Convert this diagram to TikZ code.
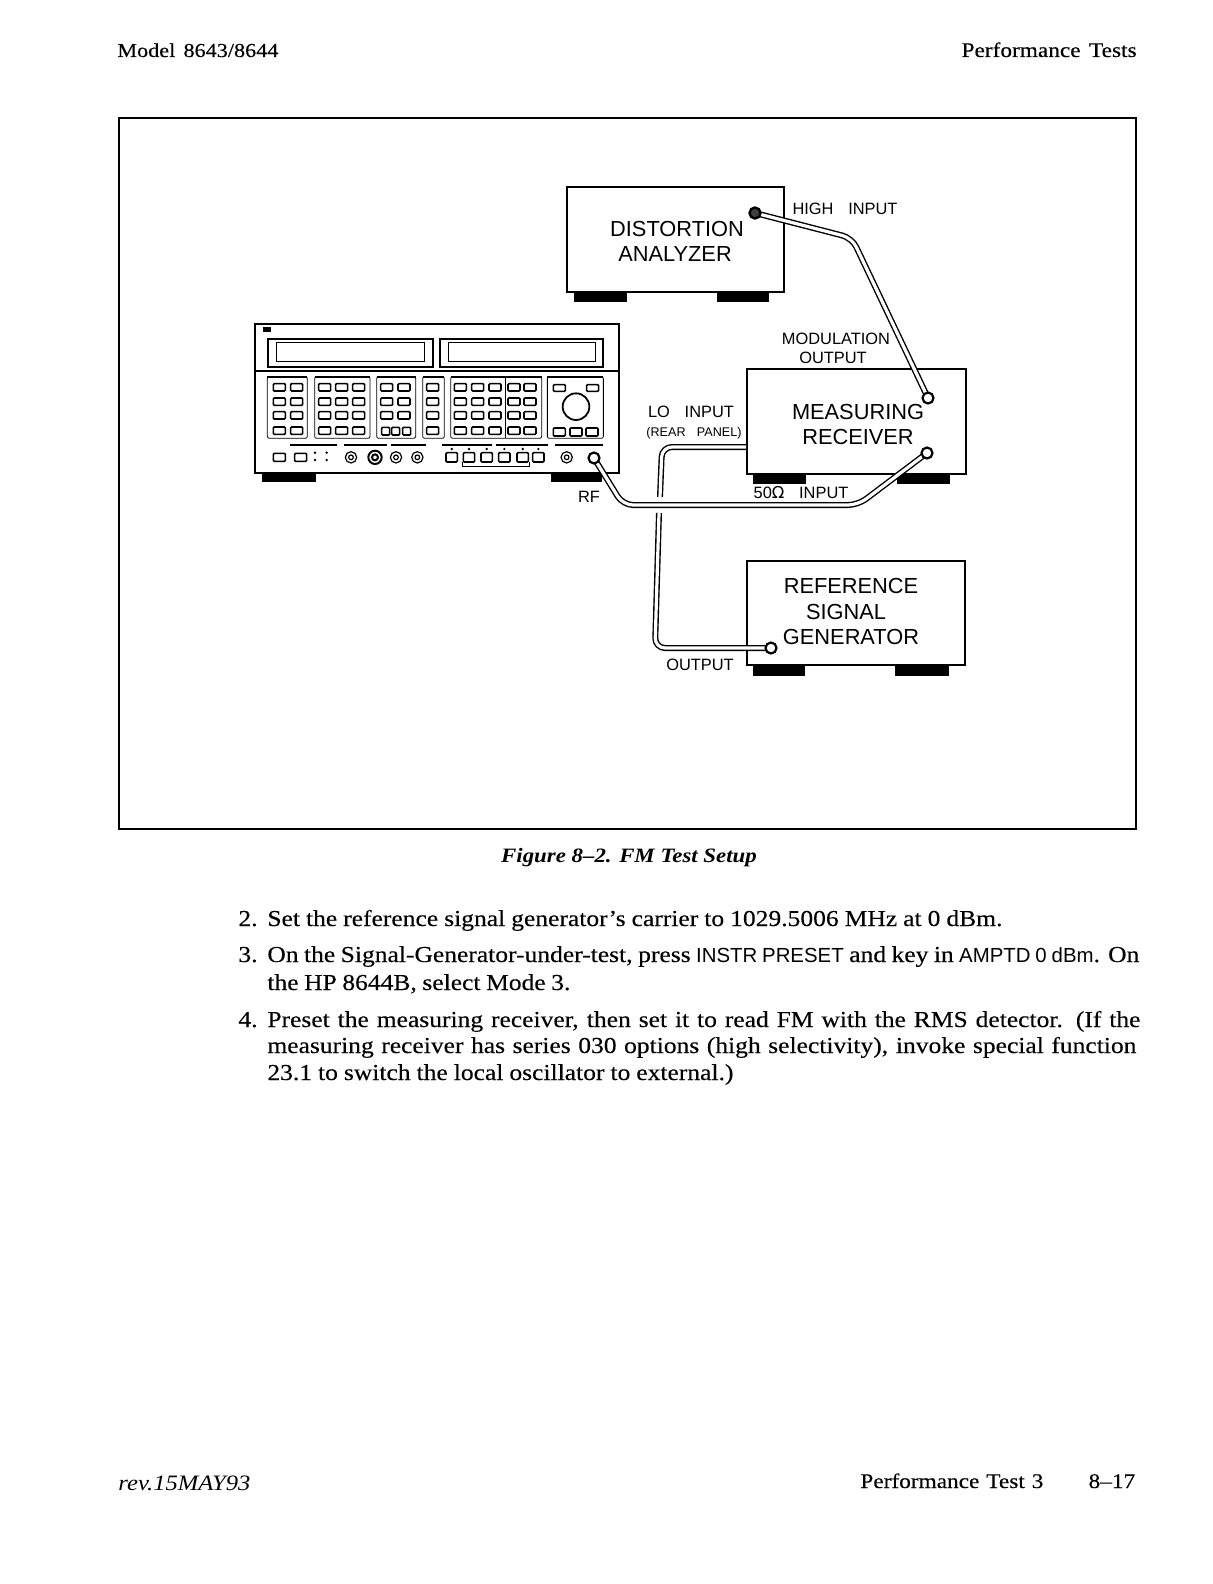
\documentclass[tikz,border=0pt]{standalone}
\usepackage{fontspec}
\setmainfont{Liberation Serif}[FakeStretch=1.12,UprightFeatures={FakeBold=0.25}]
\setsansfont{Liberation Sans}
\newfontfamily\capsfont{Liberation Sans}
\newfontfamily\symfont{DejaVu Sans}
\newcommand{\bodyline}[2]{\makebox[#1][s]{#2}}
\newcommand{\keyfont}{\sffamily\fontsize{10.2}{12}\selectfont}
\tikzset{
  page text/.style={inner sep=0pt,font=\fontsize{11.4}{13.5}\selectfont},
  left text/.style={page text,anchor=base west},
  right text/.style={page text,anchor=base east},
  head text/.style={inner sep=0pt,font=\fontsize{10.4}{13}\selectfont},
  model text/.style={inner sep=0pt,font=\fontsize{9.9}{13}\selectfont},
  instrument/.style={draw=black,line width=0.8pt,fill=white,inner sep=0pt,minimum width=#1,anchor=north west},
  foot/.style={fill=black,draw=none},
  biglabel/.style={inner sep=0pt,font=\capsfont\fontsize{10.9}{12}\selectfont},
  smalllabel/.style={inner sep=0pt,font=\capsfont\fontsize{8.2}{10}\selectfont},
  tinylabel/.style={inner sep=0pt,font=\capsfont\fontsize{6.3}{8}\selectfont},
  cable/.style={draw=black,line width=0.7pt,double=white,double distance=1.6pt,rounded corners=5pt},
  ring/.style={circle,draw=black,line width=1.1pt,fill=white,inner sep=0pt,minimum size=5.5pt},
  darkring/.style={circle,draw=black,line width=1.2pt,fill=black!75,inner sep=0pt,minimum size=5.5pt},
  panelline/.style={line width=0.7pt},
  keycap/.style={line width=0.8pt,rounded corners=0.5pt,fill=white},
  groupbox/.style={line width=0.4pt,rounded corners=1pt},
  groupbar/.style={line width=0.9pt},
}
\begin{document}
\begin{tikzpicture}[x=0.5pt,y=-0.5pt]
\useasboundingbox (0,0) rectangle (1212,1584);
\fill[white] (0,0) rectangle (1212,1584);

% page furniture
\node[model text,anchor=base west] (hdl) at (117,57) {\bodyline{80.5pt}{Model 8643/8644}};
\node[head text,anchor=base east] (hdr) at (1137,57) {\bodyline{87.5pt}{Performance Tests}};
\node[draw=black,line width=0.8pt,inner sep=0pt,anchor=north west,minimum width=508.5pt,minimum height=355.5pt] (frame) at (118,117) {};

% feet
\fill[foot] (574,290) rectangle (627,302);
\fill[foot] (717,290) rectangle (769,302);
\fill[foot] (262,470) rectangle (316,482);
\fill[foot] (551,470) rectangle (602,482);
\fill[foot] (753,472) rectangle (806,484);
\fill[foot] (897,472) rectangle (950,484);
\fill[foot] (753,663) rectangle (805,676);
\fill[foot] (895,663) rectangle (949,676);

% boxes
\node[instrument=108.5pt,minimum height=52.5pt] (da) at (566,186) {};
\node[instrument=109.5pt,minimum height=52.5pt] (mr) at (746,368) {};
\node[instrument=109pt,minimum height=52pt] (rs) at (746,560) {};
\node[instrument=182pt,minimum height=74.5pt] (sg) at (254,323) {};

% signal generator front panel (zoom coordinates)
\begin{scope}[shift={(240,310)},x=0.16667pt,y=-0.16667pt]
  \draw[panelline] (42,183) -- (1135,183);
  \fill (68,50) rectangle (92,66);
  \draw[groupbar] (85,172) -- (85,87) -- (578,87) -- (578,172) -- cycle;
  \draw[line width=0.4pt] (108,97) rectangle (552,155);
  \draw[groupbar] (600,172) -- (600,87) -- (1090,87) -- (1090,172) -- cycle;
  \draw[line width=0.4pt] (625,97) rectangle (1065,155);
  % key groups
  \foreach \a/\b in {82/202,224/390,410/527,548/613,632/905,922/1090}{
    \draw[groupbox] (\a,200) rectangle (\b,385);
    \draw[groupbar] (\a,200) -- (\b,200);
  }
  \draw[groupbox] (797,200) -- (797,385);
  \foreach \y in {232,275,316,362}{
    \foreach \x in {118,170,254,305,356,578,661,713,765,822,870}{
      \draw[keycap] (\x-18,\y-11) rectangle (\x+18,\y+11);
    }
  }
  \foreach \y in {232,275,316}{
    \foreach \x in {440,492}{\draw[keycap] (\x-18,\y-11) rectangle (\x+18,\y+11);}
  }
  \foreach \x in {437,467,500}{\draw[keycap] (\x-12,352) rectangle (\x+12,375);}
  \draw[keycap] (940,224) rectangle (976,244);
  \draw[keycap] (1040,224) rectangle (1076,244);
  \draw[line width=0.9pt] (1008,290) circle (40);
  \foreach \x in {958,1008,1056}{\draw[keycap] (\x-18,354) rectangle (\x+18,378);}
  % bars above the bottom row
  \foreach \a/\b in {150/290,312/442,452/557,607/755,768/925,945/1090}{
    \draw[groupbar] (\a,405) -- (\b,405);
  }
  % bottom row
  \draw[keycap] (100,430) rectangle (136,454);
  \draw[keycap] (164,430) rectangle (200,454);
  \foreach \x in {225,260}{
    \fill (\x,428) circle (4);
    \fill (\x,450) circle (4);
  }
  \foreach \x in {333,468,532,980}{
    \draw[line width=0.6pt] (\x,442) circle (17);
    \draw[line width=0.6pt] (\x,442) circle (7);
  }
  \draw[line width=1pt] (405,442) circle (20);
  \draw[line width=1pt] (405,442) circle (9);
  \draw[line width=0.5pt] (668,456) -- (668,470) -- (868,470) -- (868,456);
  \foreach \x in {635,687,740,793,848,895}{
    \draw[keycap] (\x-17,428) rectangle (\x+17,456);
    \fill (\x,417) circle (4);
  }
\end{scope}

% labels
\node[biglabel] (l1) at (677,229) {DISTORTION};
\node[biglabel] (l2) at (675,254) {ANALYZER};
\node[biglabel] (l3) at (858,412) {MEASURING};
\node[biglabel] (l4) at (858,437) {RECEIVER};
\node[biglabel] (l5) at (851,586) {REFERENCE};
\node[biglabel] (l6) at (846,612) {SIGNAL};
\node[biglabel] (l7) at (851,637) {GENERATOR};
\node[smalllabel] (l8) at (845,209) {HIGH\hspace{0.9em}INPUT};
\node[smalllabel] (l9) at (836,339) {MODULATION};
\node[smalllabel] (l10) at (833,358) {OUTPUT};
\node[smalllabel] (l11) at (691,412) {LO\hspace{0.9em}INPUT};
\node[tinylabel] (l12) at (694,433) {(REAR\hspace{0.9em}PANEL)};
\node[smalllabel] (l13) at (801,493) {50{\symfont Ω}\hspace{0.9em}INPUT};
\node[smalllabel] (l14) at (589,497) {RF};
\node[smalllabel] (l15) at (700,665) {OUTPUT};

% cables
\coordinate (hi) at (755,213);
\coordinate (hibend) at (852,238);
\coordinate (modout) at (928,398);
\coordinate (rfout) at (594,458);
\coordinate (rfa) at (623,505);
\coordinate (rfb) at (858,505);
\coordinate (mrin) at (927,453);
\coordinate (lo) at (746,447);
\coordinate (loa) at (662,447);
\coordinate (lob) at (660,497);
\coordinate (loc) at (659,513);
\coordinate (lod) at (655,648);
\coordinate (refout) at (771,648);
\draw[cable] (lo) -- (loa) -- (lob);
\draw[cable] (loc) -- (lod) -- (refout);
\draw[cable] (hi) -- (hibend) -- (modout);
\draw[cable] (rfout) -- (rfa) -- (rfb) -- (mrin);
\node[darkring] (chi) at (hi) {};
\node[ring] (cmod) at (modout) {};
\node[ring] (crf) at (rfout) {};
\node[ring] (cmr) at (mrin) {};
\node[ring] (cref) at (refout) {};

% caption and body
\node[page text,anchor=base,font=\bfseries\itshape\fontsize{10.2}{13}\selectfont] (cap) at (629,862) {Figure 8--2. FM Test Setup};
\node[left text] (n2) at (238,926) {2.};
\node[left text] (t2) at (267,926) {\bodyline{367.5pt}{Set the reference signal generator’s carrier to 1029.5006 MHz at 0 dBm.}};
\node[left text] (n3) at (238,962) {3.};
\node[left text] (t3) at (267,962) {\bodyline{436pt}{On the Signal-Generator-under-test, press {\keyfont INSTR PRESET} and key in {\keyfont AMPTD 0 dBm}. On}};
\node[left text] (t3b) at (267,990) {\bodyline{151.5pt}{the HP 8644B, select Mode 3.}};
\node[left text] (n4) at (238,1027) {4.};
\node[left text] (t4) at (267,1027) {\bodyline{436.5pt}{Preset the measuring receiver, then set it to read FM with the RMS detector. (If the}};
\node[left text] (t4b) at (267,1053) {\bodyline{434.5pt}{measuring receiver has series 030 options (high selectivity), invoke special function}};
\node[left text] (t4c) at (267,1080) {\bodyline{233pt}{23.1 to switch the local oscillator to external.)}};

% footer
\node[left text,font=\itshape\fontsize{11}{13}\selectfont] (fl) at (118,1490) {rev.15MAY93};
\node[head text,anchor=base west] (fm) at (860,1488) {\bodyline{91.5pt}{Performance Test 3}};
\node[head text,anchor=base east] (fr) at (1134,1488) {\bodyline{22.5pt}{8--17}};
\end{tikzpicture}
\end{document}
